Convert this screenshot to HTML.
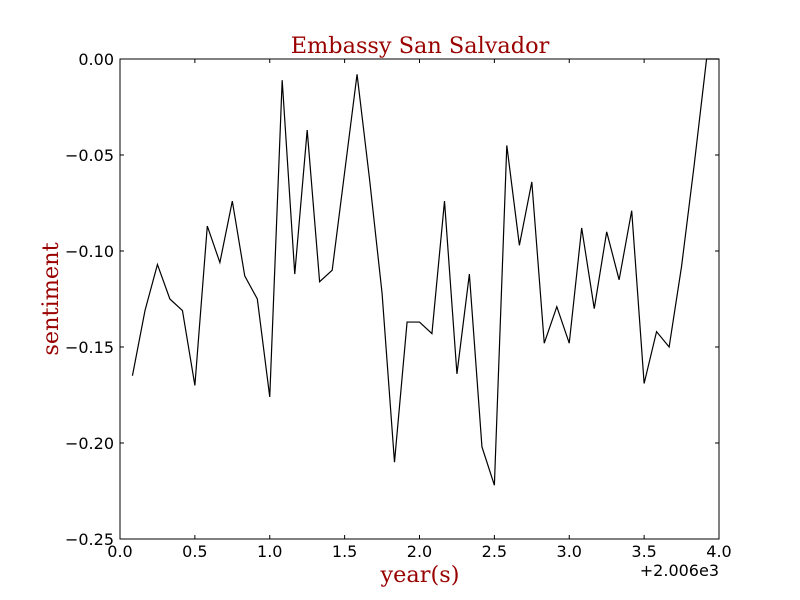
<!DOCTYPE html>
<html><head><meta charset="utf-8"><style>
body{margin:0;background:#fff;}
svg{display:block;}
text{font-family:"DejaVu Sans","Liberation Sans",sans-serif;}
.serif{font-family:"DejaVu Serif","Liberation Serif",serif;fill:#990000;}
</style></head><body>
<svg id="chart" width="800" height="600">
<rect x="0" y="0" width="800" height="600" fill="#fff"/>
<text class="serif" x="420" y="53" font-size="22.4" text-anchor="middle">Embassy San Salvador</text>
<text class="serif" x="420" y="582" font-size="22.4" text-anchor="middle">year(s)</text>
<text class="serif" x="58" y="299" font-size="22.4" text-anchor="middle" transform="rotate(-90 58 299)">sentiment</text>
<g id="axes"></g>
<polyline id="line" fill="none" stroke="#000" stroke-width="1.2"/>
<rect x="120" y="59" width="599" height="480" fill="none" stroke="#000" stroke-width="1"/>
<text x="719" y="576" font-size="16" text-anchor="end">+2.006e3</text>
</svg>
<script>
const xValues=[0.083,0.167,0.25,0.333,0.417,0.5,0.583,0.667,0.75,0.833,0.917,1.0,1.083,1.167,1.25,1.333,1.417,1.5,1.583,1.667,1.75,1.833,1.917,2.0,2.083,2.167,2.25,2.333,2.417,2.5,2.583,2.667,2.75,2.833,2.917,3.0,3.083,3.167,3.25,3.333,3.417,3.5,3.583,3.667,3.75,3.833,3.917,4.0];
const sentiment=[-0.165,-0.131,-0.107,-0.125,-0.131,-0.170,-0.087,-0.106,-0.074,-0.113,-0.125,-0.176,-0.011,-0.112,-0.037,-0.116,-0.110,-0.059,-0.008,-0.063,-0.122,-0.210,-0.137,-0.137,-0.143,-0.074,-0.164,-0.112,-0.202,-0.222,-0.045,-0.097,-0.064,-0.148,-0.129,-0.148,-0.088,-0.130,-0.090,-0.115,-0.079,-0.169,-0.142,-0.150,-0.108,-0.056,0.0,0.0];
const xTicks=[0,0.5,1,1.5,2,2.5,3,3.5,4];
const xTickLabels=["0.0","0.5","1.0","1.5","2.0","2.5","3.0","3.5","4.0"];
const yTicks=[0,-0.05,-0.1,-0.15,-0.2,-0.25];
const yTickLabels=["0.00","\u22120.05","\u22120.10","\u22120.15","\u22120.20","\u22120.25"];
const L=120,R=719,T=59,B=539;
const sx=v=>L+(v-0)/(4-0)*(R-L);
const sy=v=>T+(0-v)/(0-(-0.25))*(B-T);
const NS="http://www.w3.org/2000/svg";
const axes=document.getElementById('axes');
function mk(tag,attrs){const e=document.createElementNS(NS,tag);for(const k in attrs)e.setAttribute(k,attrs[k]);return e;}
xTicks.forEach((t,i)=>{
  const x=sx(t);
  const a=mk('line',{x1:x,x2:x,y1:B,y2:B-4,stroke:'#000'});
  
  
  axes.appendChild(a);
  const b=mk('line',{x1:x,x2:x,y1:T,y2:T+4,stroke:'#000'});
  
  
  axes.appendChild(b);
  const tx=mk('text',{x:x,y:B+18,'font-size':16,'text-anchor':'middle'});
  tx.textContent=xTickLabels[i];
  
  
  axes.appendChild(tx);
});
yTicks.forEach((t,i)=>{
  const y=sy(t);
  const a=mk('line',{x1:L,x2:L+4,y1:y,y2:y,stroke:'#000'});
  
  
  axes.appendChild(a);
  const b=mk('line',{x1:R,x2:R-4,y1:y,y2:y,stroke:'#000'});
  
  
  axes.appendChild(b);
  const tx=mk('text',{x:L-6,y:y+6,'font-size':16,'text-anchor':'end'});
  tx.textContent=yTickLabels[i];
  
  
  axes.appendChild(tx);
});
document.getElementById('line').setAttribute('points',xValues.map((x,i)=>sx(x)+','+sy(sentiment[i])).join(' '));
</script>
</body></html>
